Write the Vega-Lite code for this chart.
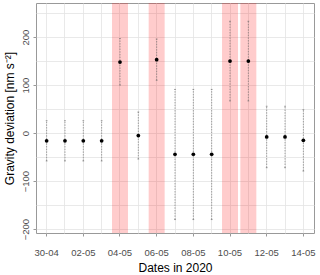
{
  "$schema": "https://vega.github.io/schema/vega-lite/v6.json",
  "width": 278,
  "height": 230,
  "autosize": {"type": "none"},
  "padding": {"left": 36, "top": 3, "right": 6, "bottom": 42},
  "background": "white",
  "config": {
    "font": "Liberation Sans",
    "view": {"stroke": "#999999", "strokeWidth": 1},
    "axis": {
      "domain": false,
      "labelColor": "#4d4d4d",
      "titleColor": "#000000",
      "titleFontWeight": "normal",
      "tickColor": "#999999",
      "tickSize": 3,
      "gridColor": "#e3e3e3",
      "gridWidth": 0.8
    }
  },
  "datasets": {
    "obs": [
      {"day": "30-04", "g": -16, "lo": -58, "hi": 26},
      {"day": "01-05", "g": -16, "lo": -58, "hi": 26},
      {"day": "02-05", "g": -16, "lo": -58, "hi": 26},
      {"day": "03-05", "g": -16, "lo": -58, "hi": 26},
      {"day": "04-05", "g": 148, "lo": 100, "hi": 197},
      {"day": "05-05", "g": -5, "lo": -54, "hi": 44},
      {"day": "06-05", "g": 153, "lo": 110, "hi": 196},
      {"day": "07-05", "g": -44, "lo": -180, "hi": 91},
      {"day": "08-05", "g": -44, "lo": -180, "hi": 91},
      {"day": "09-05", "g": -44, "lo": -180, "hi": 91},
      {"day": "10-05", "g": 150, "lo": 67, "hi": 233},
      {"day": "11-05", "g": 150, "lo": 67, "hi": 233},
      {"day": "12-05", "g": -8, "lo": -72, "hi": 56},
      {"day": "13-05", "g": -8, "lo": -72, "hi": 56},
      {"day": "14-05", "g": -15, "lo": -79, "hi": 49}
    ],
    "bands": [
      {"day": "04-05"},
      {"day": "06-05"},
      {"day": "10-05"},
      {"day": "11-05"}
    ]
  },
  "resolve": {"axis": {"x": "independent", "y": "independent"}},
  "layer": [
    {
      "data": {"name": "bands"},
      "mark": {"type": "bar", "width": 16, "color": "#ff0000", "opacity": 0.2},
      "encoding": {
        "x": {
          "field": "day",
          "type": "ordinal",
          "sort": null,
          "scale": {
            "domain": ["30-04", "01-05", "02-05", "03-05", "04-05", "05-05", "06-05", "07-05", "08-05", "09-05", "10-05", "11-05", "12-05", "13-05", "14-05"],
            "paddingInner": 0,
            "paddingOuter": 0.08
          },
          "axis": {
            "orient": "bottom",
            "grid": true,
            "labels": false,
            "ticks": false,
            "domain": false,
            "title": null
          }
        },
        "y": {"value": 0},
        "y2": {"value": "height"}
      }
    },
    {
      "data": {"name": "obs"},
      "mark": {"type": "rule", "color": "#666666", "strokeWidth": 0.6, "strokeDash": [1.5, 1.2]},
      "encoding": {
        "x": {"field": "day", "type": "ordinal", "sort": null, "axis": null},
        "y": {
          "field": "lo",
          "type": "quantitative",
          "scale": {"domain": [-208, 271], "nice": false, "zero": false},
          "axis": {
            "orient": "left",
            "grid": true,
            "labels": false,
            "ticks": false,
            "domain": false,
            "title": null,
            "values": [-200, -150, -100, -50, 0, 50, 100, 150, 200, 250]
          }
        },
        "y2": {"field": "hi"}
      }
    },
    {
      "data": {"name": "obs"},
      "mark": {"type": "point", "shape": "M-1,0L1,0", "filled": false, "color": "#666666", "strokeWidth": 0.6, "size": 3, "opacity": 1},
      "encoding": {
        "x": {"field": "day", "type": "ordinal", "sort": null, "axis": null},
        "y": {"field": "lo", "type": "quantitative", "axis": null}
      }
    },
    {
      "data": {"name": "obs"},
      "mark": {"type": "point", "shape": "M-1,0L1,0", "filled": false, "color": "#666666", "strokeWidth": 0.6, "size": 3, "opacity": 1},
      "encoding": {
        "x": {"field": "day", "type": "ordinal", "sort": null, "axis": null},
        "y": {"field": "hi", "type": "quantitative", "axis": null}
      }
    },
    {
      "data": {"name": "obs"},
      "mark": {"type": "circle", "color": "#000000", "opacity": 1, "size": 14},
      "encoding": {
        "x": {
          "field": "day",
          "type": "ordinal",
          "sort": null,
          "axis": {
            "orient": "bottom",
            "title": "Dates in 2020",
            "titleFontSize": 12,
            "titlePadding": 6,
            "labelFontSize": 9.5,
            "labelPadding": 11,
            "labelAngle": 0,
            "grid": false,
            "values": ["30-04", "02-05", "04-05", "06-05", "08-05", "10-05", "12-05", "14-05"],
            "labelOverlap": false
          }
        },
        "y": {
          "field": "g",
          "type": "quantitative",
          "axis": {
            "orient": "left",
            "title": "Gravity deviation [nm s⁻²]",
            "titleFontSize": 12,
            "titlePadding": 4,
            "labelFontSize": 9.5,
            "labelAngle": -90,
            "labelPadding": 3,
            "grid": false,
            "values": [-200, -100, 0, 100, 200],
            "labelOverlap": false
          }
        }
      }
    }
  ]
}
